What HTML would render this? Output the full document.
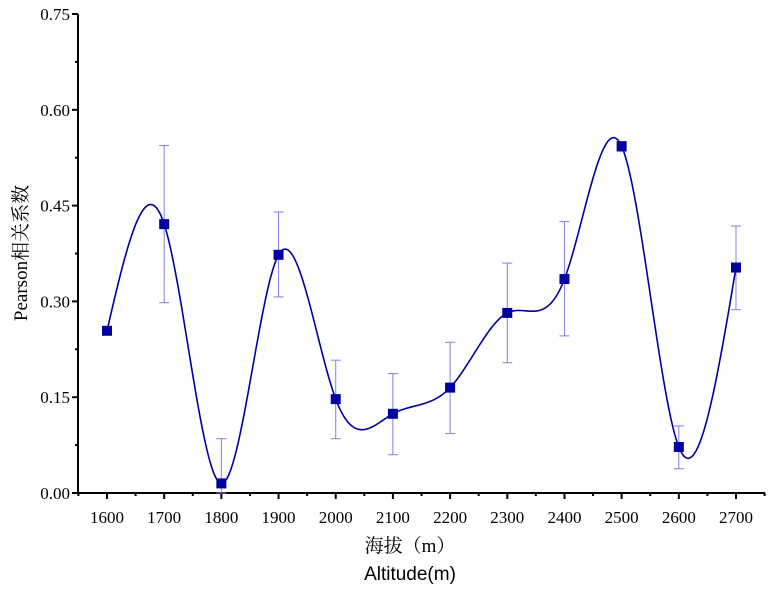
<!DOCTYPE html>
<html><head><meta charset="utf-8"><style>
body{margin:0;background:#fff}
text{font-family:"Liberation Serif","Noto Serif CJK SC",serif;fill:#000}
</style></head><body>
<svg id="chart" width="775" height="591" viewBox="0 0 775 591" xmlns="http://www.w3.org/2000/svg"></svg>
<script>
const categories=[1600,1700,1800,1900,2000,2100,2200,2300,2400,2500,2600,2700];
const values=[0.254,0.421,0.015,0.373,0.147,0.124,0.165,0.282,0.335,0.543,0.072,0.353];
const errUpper=[null,0.544,0.085,0.440,0.208,0.187,0.236,0.360,0.425,0.550,0.105,0.418];
const errLower=[null,0.298,0.0,0.307,0.085,0.060,0.093,0.204,0.246,0.535,0.038,0.287];
const yTicks=[0,0.15,0.30,0.45,0.60,0.75];
const yTickLabels=["0.00","0.15","0.30","0.45","0.60","0.75"];

const NS="http://www.w3.org/2000/svg";
const svg=document.getElementById('chart');
const X0=78,Y0=493,YT=14,XE=765;
const xs=v=>107+(v-1600)*(736-107)/1100;
const ys=v=>Y0-v*(Y0-YT)/0.75;
function mk(tag,attrs,parent){const e=document.createElementNS(NS,tag);for(const k in attrs)e.setAttribute(k,attrs[k]);(parent||svg).appendChild(e);return e;}

// axes
const yAxis=mk('line',{x1:X0,y1:YT,x2:X0,y2:Y0+1,stroke:'#000','stroke-width':2});


const xAxis=mk('line',{x1:X0-1,y1:Y0,x2:XE,y2:Y0,stroke:'#000','stroke-width':2});



yTicks.forEach((t,i)=>{
  const y=ys(t);
  mk('line',{x1:X0-6,y1:y,x2:X0,y2:y,stroke:'#000','stroke-width':2});
  if(i<yTicks.length-1){const ym=ys(t+0.075);mk('line',{x1:X0-3,y1:ym,x2:X0,y2:ym,stroke:'#000','stroke-width':2});}
  const tx=mk('text',{x:X0-8,y:y+6,'text-anchor':'end','font-size':17});
  tx.textContent=yTickLabels[i];
  
  
});
categories.forEach((c,i)=>{
  const x=xs(c);
  mk('line',{x1:x,y1:Y0,x2:x,y2:Y0+6,stroke:'#000','stroke-width':2});
  const xm=xs(c-50);mk('line',{x1:xm,y1:Y0,x2:xm,y2:Y0+3,stroke:'#000','stroke-width':2});
  const tx=mk('text',{x:x,y:Y0+30,'text-anchor':'middle','font-size':17});
  tx.textContent=c;
  
  
});
{const xm=xs(2750);mk('line',{x1:xm,y1:Y0,x2:xm,y2:Y0+3,stroke:'#000','stroke-width':2});}

// error bars
categories.forEach((c,i)=>{
  if(errUpper[i]==null)return;
  const x=xs(c),yu=ys(errUpper[i]),yl=ys(errLower[i]);
  const g=mk('g',{stroke:'#8080e0','stroke-width':1});
  
  
  mk('line',{x1:x,y1:yu,x2:x,y2:yl},g);
  mk('line',{x1:x-5,y1:yu,x2:x+5,y2:yu},g);
  mk('line',{x1:x-5,y1:yl,x2:x+5,y2:yl},g);
});

// natural cubic spline
const n=values.length,h=100;
const M=new Array(n).fill(0);
{const a=[],b=[],cc=[],d=[];
 for(let i=1;i<n-1;i++){a.push(1);b.push(4);cc.push(1);d.push(6*(values[i+1]-2*values[i]+values[i-1])/(h*h));}
 const m=d.length;for(let i=1;i<m;i++){const w=a[i]/b[i-1];b[i]-=w*cc[i-1];d[i]-=w*d[i-1];}
 const r=new Array(m);r[m-1]=d[m-1]/b[m-1];for(let i=m-2;i>=0;i--)r[i]=(d[i]-cc[i]*r[i+1])/b[i];
 for(let i=0;i<m;i++)M[i+1]=r[i];}
let dstr='';
for(let i=0;i<n-1;i++){for(let k=0;k<=30;k++){const t=k/30*h,u=h-t;
  const v=M[i]*u*u*u/(6*h)+M[i+1]*t*t*t/(6*h)+(values[i]-M[i]*h*h/6)*u/h+(values[i+1]-M[i+1]*h*h/6)*t/h;
  dstr+=(dstr?'L':'M')+xs(categories[i]+t).toFixed(2)+','+ys(v).toFixed(2);}}
const curve=mk('path',{d:dstr,fill:'none',stroke:'#0000a0','stroke-width':1.6});



categories.forEach((c,i)=>{
  const r=mk('rect',{x:xs(c)-5,y:ys(values[i])-5,width:10,height:10,fill:'#0000a0'});
  
  
});

const xt1=mk('text',{x:410,y:552,'text-anchor':'middle','font-size':19});
xt1.textContent='海拔（m）';


const xt2=mk('text',{x:410,y:580,'text-anchor':'middle','font-size':19,style:'font-family:"Liberation Sans",sans-serif'});
xt2.textContent='Altitude(m)';


const yt=mk('text',{x:0,y:0,'text-anchor':'middle','font-size':19,transform:'translate(27,253) rotate(-90)'});
yt.textContent='Pearson相关系数';


</script>
</body></html>
